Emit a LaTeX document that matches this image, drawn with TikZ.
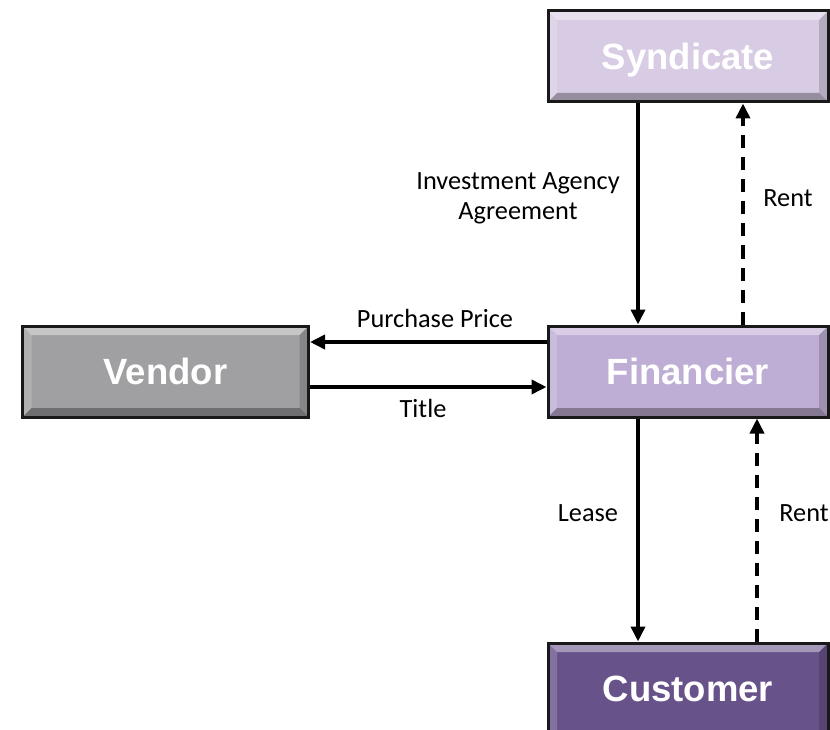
\documentclass[tikz,border=0pt]{standalone}
\usepackage{fontspec}
\setmainfont{Carlito}
\newfontfamily\boxfont{Liberation Sans}
\usetikzlibrary{arrows.meta}

\definecolor{syndfill}{HTML}{D8CCE4}
\definecolor{finfill}{HTML}{BEADD4}
\definecolor{custfill}{HTML}{68528A}
\definecolor{vendfill}{HTML}{A0A0A2}

\tikzset{
  bevelbox/.style={
    draw=black!90, line width=3pt, text=white,
    minimum width=280pt, minimum height=91pt, inner sep=0pt,
    text height=26pt, text depth=0pt,
    font=\boxfont\bfseries\fontsize{36.5}{40}\selectfont,
    path picture={
      % lit top edge
      \fill[white,opacity=.40] (path picture bounding box.north west) -- (path picture bounding box.north east)
        -- ([shift={(-9pt,-9pt)}]path picture bounding box.north east) -- ([shift={(9pt,-9pt)}]path picture bounding box.north west) -- cycle;
      % left edge
      \fill[white,opacity=.18] (path picture bounding box.north west) -- ([shift={(9pt,-9pt)}]path picture bounding box.north west)
        -- ([shift={(9pt,9pt)}]path picture bounding box.south west) -- (path picture bounding box.south west) -- cycle;
      % right edge
      \fill[black,opacity=.16] (path picture bounding box.north east) -- ([shift={(-9pt,-9pt)}]path picture bounding box.north east)
        -- ([shift={(-9pt,9pt)}]path picture bounding box.south east) -- (path picture bounding box.south east) -- cycle;
      % shaded bottom edge
      \fill[black,opacity=.30] (path picture bounding box.south west) -- (path picture bounding box.south east)
        -- ([shift={(-9pt,9pt)}]path picture bounding box.south east) -- ([shift={(9pt,9pt)}]path picture bounding box.south west) -- cycle;
    }},
  flow/.style={line width=3.6pt, -{Triangle[width=14pt,length=15pt]}},
  backflow/.style={flow, dash pattern=on 13pt off 9pt},
  lbl/.style={font=\fontsize{26.3}{30}\selectfont, align=center, inner sep=0pt}
}

\begin{document}
\begin{tikzpicture}[x=1pt,y=-1pt]
  \useasboundingbox (0,0) rectangle (830,730);

  % parties
  \node[bevelbox, fill=syndfill] (syndicate) at (688,56.5)  {Syndicate};
  \node[bevelbox, fill=finfill]  (financier) at (688,371.5) {Financier};
  % the customer box runs past the lower edge of the page
  \node[bevelbox, fill=custfill, minimum height=104pt, text height=13pt] (customer) at (688,695) {Customer};
  \node[bevelbox, fill=vendfill, minimum width=286pt] (vendor) at (165.5,371.5) {Vendor};

  % syndicate <-> financier
  \draw[flow]     ([xshift=-50pt]syndicate.south) -- ([xshift=-50pt]financier.north);
  \draw[backflow] ([xshift=55pt]financier.north)  -- ([xshift=55pt]syndicate.south);

  % vendor <-> financier
  \draw[flow] ([yshift=29.5pt]financier.west) -- ([yshift=29.5pt]vendor.east);
  \draw[flow] ([yshift=-15.5pt]vendor.east)   -- ([yshift=-15.5pt]financier.west);

  % financier <-> customer
  \draw[flow]     ([xshift=-50pt]financier.south) -- ([xshift=-50pt]customer.north);
  \draw[backflow] ([xshift=69pt]customer.north)   -- ([xshift=69pt]financier.south);

  % labels
  \node[lbl] (lblinv)   at (518,198) {Investment Agency\\Agreement};
  \node[lbl] (lblrent1) at (788,198) {Rent};
  \node[lbl] (lblprice) at (435,318) {Purchase Price};
  \node[lbl] (lbltitle) at (423,408) {Title};
  \node[lbl] (lbllease) at (588,513) {Lease};
  \node[lbl] (lblrent2) at (804,513) {Rent};
\end{tikzpicture}
\end{document}
